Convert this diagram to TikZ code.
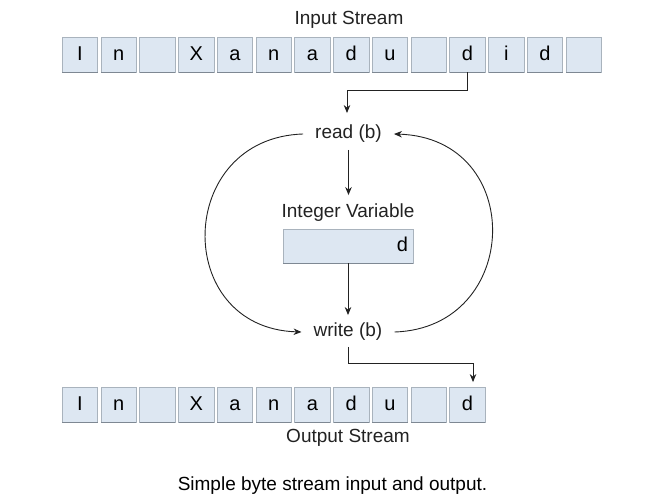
\documentclass[tikz,border=0pt]{standalone}
\usepackage{fontspec}
\setmainfont{Liberation Sans}
\usetikzlibrary{arrows.meta}
\definecolor{cellfill}{HTML}{DDE7F2}
\definecolor{celledge}{HTML}{A9B3BD}
\definecolor{cellshade}{HTML}{7E8893}
\definecolor{ink}{HTML}{222222}
\begin{document}
\begin{tikzpicture}[x=1pt,y=-1pt,
  cellbox/.style={draw=celledge, fill=cellfill, line width=0.8pt, minimum width=35.5pt, minimum height=35pt, inner sep=0pt, text height=14.5pt, text depth=3pt, font=\fontsize{20}{22}\selectfont, text=black},
  lbl/.style={font=\fontsize{19}{21}\selectfont, text=ink, inner sep=0pt, text height=13.5pt, text depth=4pt},
  opnode/.style={lbl, inner xsep=12pt},
  arr/.style={draw=ink, line width=0.9pt, -{Stealth[length=8pt,width=6.5pt]}},
  ln/.style={draw=ink, line width=0.9pt}
]
\useasboundingbox (0,0) rectangle (669,500);
% input stream
\node[lbl] (inlbl) at (349,20) {Input Stream};
\foreach \i/\c in {0/I,1/n,2/{},3/X,4/a,5/n,6/a,7/d,8/u,9/{},10/d,11/i,12/d,13/{}} {
  \node[cellbox] (in\i) at ({80+38.75*\i},54.5) {\c};
  \draw[cellshade, line width=1pt] ([xshift=0.5pt]in\i.south west) -- ([xshift=-0.5pt]in\i.south east);
}
% output stream
\foreach \i/\c in {0/I,1/n,2/{},3/X,4/a,5/n,6/a,7/d,8/u,9/{},10/d} {
  \node[cellbox] (out\i) at ({80+38.75*\i},405) {\c};
  \draw[cellshade, line width=1pt] ([xshift=0.5pt]out\i.south west) -- ([xshift=-0.5pt]out\i.south east);
}
\node[lbl] (outlbl) at (348,438) {Output Stream};
% middle
\node[opnode] (read) at (348.5,134) {read (b)};
\node[lbl] (intlbl) at (348,213) {Integer Variable};
\node[cellbox, minimum width=130pt, minimum height=34pt, text width=120pt, align=right] (var) at (348,246) {d};
\draw[cellshade, line width=1pt] ([xshift=0.5pt]var.south west) -- ([xshift=-0.5pt]var.south east);
\node[opnode] (write) at (348,332) {write (b)};
% connectors
\coordinate (ibend) at (347,90);
\draw[arr, shorten >=12pt] (in10.south) |- (ibend) -- (ibend |- read.north);
\draw[arr, shorten <=7pt, shorten >=9pt] (read.south) -- (read.south |- intlbl.north);
\draw[arr, shorten >=8pt] (var.south) -- (var.south |- write.north);
\draw[arr] (read.west) .. controls (175,138) and (172,328) .. (write.west);
\draw[arr] (write.east) .. controls (522,328) and (527,138) .. (read.east);
\coordinate (obend) at (473,363);
\draw[arr, shorten <=6pt, shorten >=5pt] (write.south) |- (obend) -- (obend |- out10.north);
% caption
\node[lbl, text=black] (cap) at (332.5,486) {Simple byte stream input and output.};
\end{tikzpicture}
\end{document}
